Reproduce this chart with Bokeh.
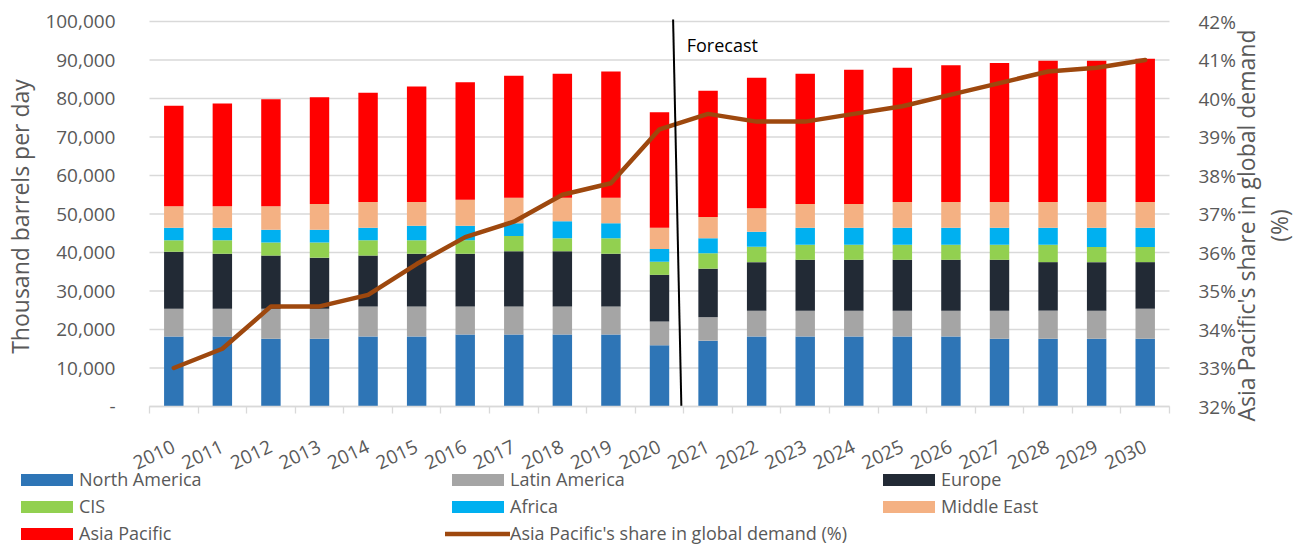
import math
from bokeh.plotting import figure
from bokeh.models import (Range1d, LinearAxis, FixedTicker, ColumnDataSource, Legend,
                          LegendItem, Label, NumeralTickFormatter)
from bokeh.embed import file_html
from bokeh.resources import INLINE

years = [str(y) for y in range(2010, 2031)]
north_america = [18200, 18200, 17600, 17600, 18200, 18200, 18700, 18700, 18700, 18700, 15900,
                 17100, 18200, 18200, 18200, 18200, 18200, 17600, 17600, 17600, 17600]
latin_america = [7200, 7200, 7800, 7800, 7800, 7800, 7300, 7300, 7300, 7300, 6200,
                 6100, 6700, 6700, 6700, 6700, 6700, 7300, 7300, 7300, 7800]
europe = [14800, 14300, 13800, 13250, 13200, 13700, 13700, 14300, 14300, 13700, 12100,
          12600, 12600, 13200, 13200, 13200, 13200, 13200, 12600, 12600, 12100]
cis = [2950, 3450, 3400, 3950, 3950, 3450, 3450, 4000, 3400, 4000, 3400,
       4000, 4000, 3900, 3900, 3900, 3900, 3900, 4500, 3900, 3900]
africa = [3300, 3300, 3300, 3300, 3300, 3800, 3800, 3300, 4400, 3900, 3300,
          3900, 3900, 4450, 4450, 4450, 4450, 4450, 4450, 5050, 5050]
middle_east = [5550, 5550, 6100, 6700, 6650, 6150, 6750, 6650, 6150, 6650, 5550,
               5500, 6100, 6150, 6150, 6650, 6650, 6650, 6650, 6650, 6650]
asia_pacific = [26100, 26700, 27800, 27700, 28400, 30000, 30500, 31650, 32150, 32750, 29950,
                32800, 33900, 33800, 34900, 34900, 35550, 36100, 36700, 36700, 37200]
ap_share = [33.0, 33.5, 34.6, 34.6, 34.9, 35.7, 36.4, 36.8, 37.5, 37.8, 39.2,
            39.6, 39.4, 39.4, 39.6, 39.8, 40.1, 40.4, 40.7, 40.8, 41.0]

series_names = ["North America", "Latin America", "Europe", "CIS", "Africa", "Middle East", "Asia Pacific"]
series_keys = ["na", "la", "eu", "cis", "af", "me", "ap"]
series_colors = ["#2E75B6", "#A5A5A5", "#222A35", "#92D050", "#00B0F0", "#F4B183", "#FF0000"]
line_name = "Asia Pacific's share in global demand (%)"
line_color = "#9E480E"
left_title = "Thousand barrels per day"
right_title = "Asia Pacific's share in global demand\n(%)"

left_ticks = list(range(0, 100001, 10000))
right_ticks = list(range(32, 43))
Y_MIN, Y_MAX = 0, 100000
P_MIN, P_MAX = 32, 42

FONT = "Open Sans"
TXT = "#595959"
GRID = "#D9D9D9"

# canvas and plot-area geometry (pixels)
W, H = 1297, 545
PL, PR, PT, PB = 149, 1169, 21, 406
n = len(years)
bw = (PR - PL) / n
ypx = (PB - PT) / (Y_MAX - Y_MIN)
ppx = (PB - PT) / (P_MAX - P_MIN)

x_pos = [i + 0.5 for i in range(n)]
src = ColumnDataSource(dict(x=x_pos, na=north_america, la=latin_america, eu=europe, cis=cis,
                            af=africa, me=middle_east, ap=asia_pacific, share=ap_share))

p = figure(width=W, height=H, output_backend="svg", toolbar_location=None,
           x_range=Range1d(-PL / bw, (W - PL) / bw),
           y_range=Range1d(Y_MIN - (H - PB) / ypx, Y_MAX + PT / ypx),
           min_border=0)
p.title.visible = False
p.outline_line_color = None
p.xgrid.visible = False
p.ygrid.visible = False
p.extra_y_ranges = {"pct": Range1d(P_MIN - (H - PB) / ppx, P_MAX + PT / ppx)}

# horizontal gridlines across the plot area only
p.segment(x0=[0] * len(left_ticks), x1=[n] * len(left_ticks), y0=left_ticks, y1=left_ticks,
          line_color=GRID, line_width=1.3, level="underlay")

bars = p.vbar_stack(series_keys, x="x", width=0.4, fill_color=series_colors,
                    line_color=None, source=src)
line = p.line("x", "share", source=src, y_range_name="pct", line_color=line_color,
              line_width=4.5, line_cap="round", line_join="round")

# x axis, anchored at y = 0
xa = p.xaxis[0]
xa.fixed_location = 0
xa.bounds = (0, n)
xa.ticker = FixedTicker(ticks=x_pos, minor_ticks=list(range(n + 1)))
xa.major_label_overrides = {x: y for x, y in zip(x_pos, years)}
xa.major_tick_line_color = None
xa.minor_tick_line_color = GRID
xa.minor_tick_line_width = 1.3
xa.minor_tick_out = 7
xa.minor_tick_in = 0
xa.axis_line_color = GRID
xa.axis_line_width = 1.3
xa.major_label_orientation = 0.44
xa.major_label_standoff = 32
xa.major_label_text_font = FONT
xa.major_label_text_font_size = "19px"
xa.major_label_text_color = TXT

# left axis, anchored at the first category edge
ya = p.yaxis[0]
ya.fixed_location = 0
ya.bounds = (Y_MIN, Y_MAX)
ya.ticker = FixedTicker(ticks=left_ticks)
ya.formatter = NumeralTickFormatter(format="0,0")
ya.major_label_overrides = {0: "-"}
ya.major_tick_line_color = None
ya.minor_tick_line_color = None
ya.axis_line_color = None
ya.major_label_standoff = 28
ya.major_label_text_font = FONT
ya.major_label_text_font_size = "19px"
ya.major_label_text_color = TXT

# right axis, anchored at the last category edge
ra = LinearAxis(y_range_name="pct", ticker=FixedTicker(ticks=right_ticks))
ra.fixed_location = n
ra.bounds = (P_MIN, P_MAX)
ra.major_label_overrides = {t: f"{t}%" for t in right_ticks}
ra.major_tick_line_color = None
ra.minor_tick_line_color = None
ra.axis_line_color = None
ra.major_label_standoff = 23
ra.major_label_text_font = FONT
ra.major_label_text_font_size = "19px"
ra.major_label_text_color = TXT
p.add_layout(ra, "right")

# axis titles
p.add_layout(Label(x=19, y=H - 216, x_units="screen", y_units="screen", text=left_title,
                   angle=math.pi / 2, text_align="center", text_baseline="middle",
                   text_font=FONT, text_font_size="23px", text_color=TXT))
p.add_layout(Label(x=1262, y=H - 225, x_units="screen", y_units="screen", text=right_title,
                   angle=math.pi / 2, text_align="center", text_baseline="middle",
                   text_font=FONT, text_font_size="23px", text_color=TXT,
                   text_line_height=1.05))

# forecast marker
FORECAST_X_TOP, FORECAST_X_BOTTOM, FORECAST_Y_TOP = 10.78, 10.95, 100500
p.segment(x0=[FORECAST_X_TOP], y0=[FORECAST_Y_TOP], x1=[FORECAST_X_BOTTOM], y1=[0],
          line_color="black", line_width=2)
p.add_layout(Label(x=11.06, y=93770, text="Forecast", text_font=FONT, text_font_size="18px",
                   text_color="black", text_baseline="middle"))

# legend under the axis labels
items = [LegendItem(label=nm, renderers=[r]) for nm, r in zip(series_names, bars)]
items.append(LegendItem(label=line_name, renderers=[line]))
legend = Legend(items=items, location=(14, 0), orientation="horizontal", ncols=3,
                glyph_width=65, glyph_height=15, label_width=363, label_height=18,
                spacing=3, label_standoff=0, padding=0, margin=0,
                border_line_color=None, background_fill_alpha=0,
                label_text_font=FONT, label_text_font_size="18px", label_text_color=TXT)
p.add_layout(legend)

open("out.html", "w").write(file_html(p, INLINE))
